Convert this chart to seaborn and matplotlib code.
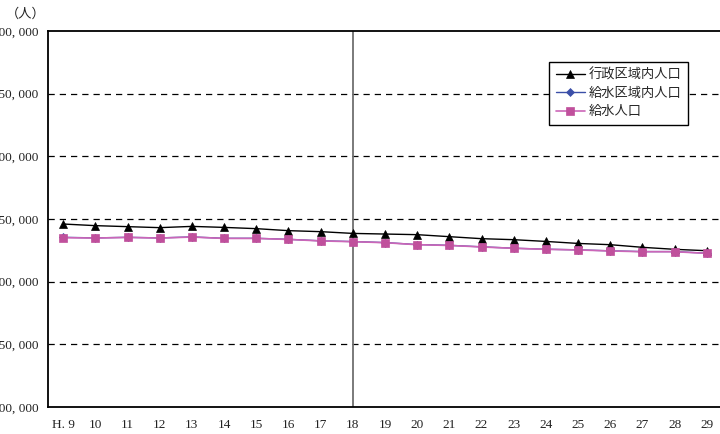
import matplotlib
matplotlib.use("Agg")
import matplotlib.pyplot as plt
import seaborn as sns
import pandas as pd
from matplotlib.ticker import FuncFormatter

# 年度ラベル（平成）
years = ["H. 9", "10", "11", "12", "13", "14", "15", "16", "17", "18", "19",
         "20", "21", "22", "23", "24", "25", "26", "27", "28", "29"]

# 行政区域内人口
gyosei = [246000, 244700, 243900, 243100, 244100, 243300, 242300, 240700, 239900, 238500, 238000,
          237500, 235900, 234300, 233500, 232100, 230500, 229500, 227400, 225800, 224700]
# 給水区域内人口
kyusui_kuiki = [235400, 234900, 235400, 234900, 235700, 234600, 234600, 233800, 232600, 232000, 231200,
                229600, 229000, 227800, 226700, 225900, 225400, 224600, 224000, 224000, 222700]
# 給水人口
kyusui = [235100, 234800, 235300, 234800, 235600, 234500, 234500, 233700, 232500, 231900, 231100,
          229500, 228900, 227700, 226600, 225800, 225300, 224500, 223900, 223900, 222600]

series_names = ["行政区域内人口", "給水区域内人口", "給水人口"]

sns.set_theme(style="white")
plt.rcParams["font.family"] = ["Noto Sans CJK JP", "DejaVu Sans"]

fig = plt.figure(figsize=(7.2, 4.34), dpi=100)
ax = fig.add_axes([48 / 720, 27 / 434, 674 / 720, 376 / 434])

x = list(range(len(years)))
df = pd.DataFrame({"x": x * 3,
                   "value": gyosei + kyusui_kuiki + kyusui,
                   "series": sum([[n] * len(years) for n in series_names], [])})

styles = {
    "行政区域内人口": dict(color="black", marker="^", markersize=6, lw=1.0, mfc="black"),
    "給水区域内人口": dict(color="#3b4fa8", marker="D", markersize=4, lw=1.0, mfc="#3b4fa8"),
    "給水人口": dict(color="#cc66b8", marker="s", markersize=5.5, lw=1.2, mfc="#c0509c", mec="#c0509c"),
}
for name in series_names:
    st = styles[name]
    sns.lineplot(data=df[df.series == name], x="x", y="value", ax=ax, label=name,
                 color=st["color"], marker=st["marker"], markersize=st["markersize"],
                 linewidth=st["lw"], markerfacecolor=st["mfc"],
                 markeredgecolor=st.get("mec", st["mfc"]), markeredgewidth=0.5)

ax.set_xlim(-0.47, len(years) - 1 + 0.47)
ax.set_ylim(100000, 400000)
ax.set_yticks(range(100000, 400001, 50000))
ax.yaxis.set_major_formatter(FuncFormatter(lambda v, p: f"{int(v):,}".replace(",", ", ")))
ax.set_xticks(x)
ax.set_xticklabels(years)
ax.set_xlabel("")
ax.set_ylabel("")

for v in range(150000, 400000, 50000):
    ax.axhline(v, color="black", lw=0.9, ls=(0, (5, 4)), zorder=0)

# 平成18年の区切り線
ax.axvline(9, color="#707070", lw=1.3, zorder=1)

for s in ["left", "bottom", "top", "right"]:
    ax.spines[s].set_visible(True)
    ax.spines[s].set_color("black")
    ax.spines[s].set_linewidth(1.3)

ax.tick_params(axis="both", length=0, labelsize=8.5, colors="#222222")
ax.tick_params(axis="y", pad=7)
ax.tick_params(axis="x", pad=9)
for lab in ax.get_xticklabels() + ax.get_yticklabels():
    lab.set_family(["Liberation Serif", "DejaVu Serif"])
    lab.set_fontsize(9.5)

fig.text(6 / 720, 1 - 14 / 434, "（人）", fontsize=9.5, va="center", ha="left", color="#222222")

leg = ax.legend(loc="upper right", bbox_to_anchor=(688 / 720, 1 - 62 / 434),
                bbox_transform=fig.transFigure, borderaxespad=0, frameon=True,
                fancybox=False, edgecolor="black", fontsize=9.5, handlelength=2.2,
                labelspacing=0.4, borderpad=0.5, handletextpad=0.3)
leg.get_frame().set_linewidth(1.0)
leg.get_frame().set_alpha(1)

fig.savefig("out.png", dpi=100)
